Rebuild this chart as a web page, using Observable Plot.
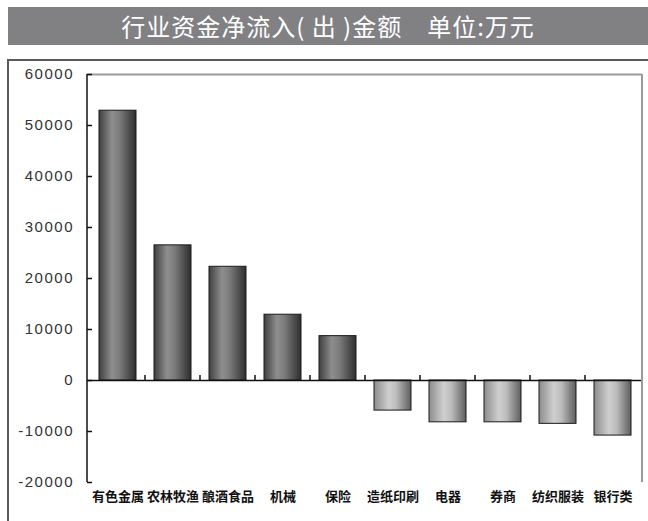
<!DOCTYPE html>
<html>
<head>
<meta charset="utf-8">
<script src="https://cdn.jsdelivr.net/npm/d3@7"></script>
<script src="https://cdn.jsdelivr.net/npm/@observablehq/plot@0.6"></script>
<style>
  html, body { margin: 0; padding: 0; background: #fff; }
  body { width: 648px; height: 521px; position: relative; overflow: hidden; }
  #title {
    position: absolute; left: 8px; top: 7px; width: 640px; height: 38px;
    background: #818184; color: #fff; text-align: center;
    font-family: "Noto Sans CJK SC", sans-serif; font-size: 24px; line-height: 38px;
    letter-spacing: 1px; white-space: pre;
  }
  #frame {
    position: absolute; left: 7px; top: 59px; width: 641px; height: 462px;
    border-top: 2px solid #5a5a5a; border-left: 2px solid #5a5a5a; box-sizing: border-box;
  }
  #chart { position: absolute; left: 0; top: 60px; }
  #chart g[aria-label="y-axis tick label"] { letter-spacing: 1.5px; }
</style>
</head>
<body>
<div id="title">行业资金净流入( 出 )金额　单位:万元</div>
<div id="frame"></div>
<div id="chart"></div>
<script>
const categories = ["有色金属", "农林牧渔", "酿酒食品", "机械", "保险", "造纸印刷", "电器", "券商", "纺织服装", "银行类"];
const values = [52900, 26500, 22300, 12900, 8700, -5900, -8200, -8200, -8500, -10800];
const yTicks = [-20000, -10000, 0, 10000, 20000, 30000, 40000, 50000, 60000];

const data = categories.map((name, i) => ({name, value: values[i]}));

const chart = Plot.plot({
  width: 648,
  height: 461,
  marginTop: 14,
  marginBottom: 39,
  marginLeft: 87,
  marginRight: 6,
  style: {fontFamily: "'Liberation Sans', Arial, sans-serif", color: "#222", background: "transparent"},
  x: {type: "band", domain: categories, paddingInner: 0.33, paddingOuter: 0.165, label: null},
  y: {domain: [-20000, 60000], label: null},
  marks: [
    Plot.ruleY([60000], {stroke: "#9a9a9a", strokeWidth: 2}),
    Plot.barY(data.filter(d => d.value >= 0), {x: "name", y: "value", fill: "url(#gPos)", stroke: "#1a1a1a", strokeWidth: 1}),
    Plot.barY(data.filter(d => d.value < 0), {x: "name", y: "value", fill: "url(#gNeg)", stroke: "#1a1a1a", strokeWidth: 1}),
    Plot.ruleY([0], {stroke: "#111", strokeWidth: 1.5}),
    Plot.axisY(yTicks, {tickSize: -5, tickPadding: 18.5, fontSize: 15, tickFormat: d => String(d), stroke: "#111", strokeWidth: 1.5, fill: "#333"}),
    Plot.axisX({tickSize: 0, tickPadding: 9, fontSize: 13, fontWeight: "bold", fontFamily: "'Noto Sans CJK SC', sans-serif", fill: "#111", label: null})
  ]
});

const svg = d3.select(chart);
const defs = svg.insert("defs", ":first-child");
function grad(id, stops) {
  const g = defs.append("linearGradient").attr("id", id).attr("x1", "0%").attr("x2", "100%").attr("y1", "0%").attr("y2", "0%");
  stops.forEach(([o, c]) => g.append("stop").attr("offset", o).attr("stop-color", c));
}
grad("gPos", [["0%", "#404040"], ["35%", "#8e8e8e"], ["55%", "#7c7c7c"], ["100%", "#2e2e2e"]]);
grad("gNeg", [["0%", "#8c8c8c"], ["40%", "#cfcfcf"], ["60%", "#bdbdbd"], ["100%", "#5e5e5e"]]);

// axis structure lines derived from the Plot scales
const X = chart.scale("x"), Y = chart.scale("y");
const [xl, xr] = X.range;
const yTop = Y.apply(60000), yBot = Y.apply(-20000), y0 = Y.apply(0);
const g = svg.append("g");
g.append("line").attr("x1", xl).attr("x2", xl).attr("y1", yTop).attr("y2", yBot).attr("stroke", "#111").attr("stroke-width", 1.5);
g.append("line").attr("x1", xr).attr("x2", xr).attr("y1", yTop).attr("y2", yBot).attr("stroke", "#9a9a9a").attr("stroke-width", 2);
const off = (X.step - X.bandwidth) / 2;
categories.forEach((c, i) => {
  if (i === 0) return;
  const bx = X.apply(c) - off;
  g.append("line").attr("x1", bx).attr("x2", bx).attr("y1", y0).attr("y2", y0 - 5).attr("stroke", "#111").attr("stroke-width", 1.5);
});

document.getElementById("chart").appendChild(chart);
</script>
</body>
</html>
